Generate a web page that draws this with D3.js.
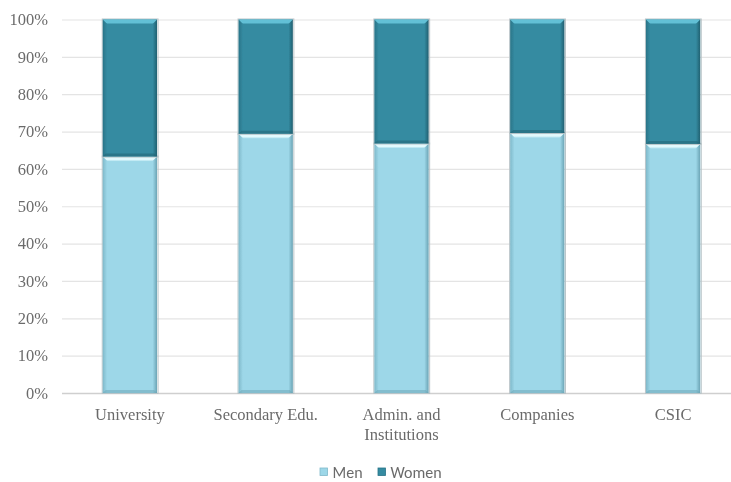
<!DOCTYPE html>
<html>
<head>
<meta charset="utf-8">
<script src="https://cdn.jsdelivr.net/npm/d3@7"></script>
<style>
  html, body { margin: 0; padding: 0; background: #fff; }
  svg { display: block; }
</style>
</head>
<body>
<svg id="chart" width="731" height="482"></svg>
<script>
// Share of men and women by employment sector (percent)
const categories = ["University", "Secondary Edu.", "Admin. and Institutions", "Companies", "CSIC"];
const categoryLines = [["University"], ["Secondary Edu."], ["Admin. and", "Institutions"], ["Companies"], ["CSIC"]];
const menShare = [63.3, 69.4, 66.8, 69.6, 66.7];
const womenShare = menShare.map(v => 100 - v);
const seriesNames = ["Men", "Women"];
const yTicks = [0, 10, 20, 30, 40, 50, 60, 70, 80, 90, 100];

const svg = d3.select("#chart");
const plot = { left: 62, right: 741, top: 19.5, bottom: 393 };

const x = d3.scaleBand().domain(categories).range([plot.left, plot.right]).paddingInner(0.6).paddingOuter(0.3);
const y = d3.scaleLinear().domain([0, 100]).range([plot.bottom, plot.top]);

const palette = {
  Men:   { fill: "#9dd7e8", top: "#e2f9fd", edge: "#7fb9ca", dark: "#6aa3b4" },
  Women: { fill: "#348ba1", top: "#62c0d6", edge: "#2a7488", dark: "#215f70" }
};

const defs = svg.append("defs");
defs.append("filter").attr("id", "soft").append("feGaussianBlur").attr("stdDeviation", 0.5);

Object.entries(palette).forEach(([k, c]) => {
  const g = defs.append("linearGradient").attr("id", "side-" + k).attr("x1", 0).attr("x2", 1).attr("y1", 0).attr("y2", 0);
  g.append("stop").attr("offset", 0).attr("stop-color", c.edge);
  g.append("stop").attr("offset", 0.08).attr("stop-color", c.fill);
  g.append("stop").attr("offset", 0.92).attr("stop-color", c.fill);
  g.append("stop").attr("offset", 1).attr("stop-color", c.dark);
  const t = defs.append("linearGradient").attr("id", "top-" + k).attr("x1", 0).attr("x2", 0).attr("y1", 0).attr("y2", 1);
  t.append("stop").attr("offset", 0).attr("stop-color", c.top);
  t.append("stop").attr("offset", 0.6).attr("stop-color", c.top);
  t.append("stop").attr("offset", 1).attr("stop-color", c.fill);
});

const root = svg.append("g").attr("filter", "url(#soft)");

// gridlines and percentage ticks
const yAxis = d3.axisLeft(y).tickValues(yTicks).tickFormat(d => d + "%").tickSize(-(plot.right - plot.left));
const ay = root.append("g").attr("transform", `translate(${plot.left},0)`).call(yAxis);
ay.select(".domain").remove();
ay.selectAll(".tick line").attr("stroke", d => d === 0 ? "#cfcfcf" : "#e4e4e4").attr("stroke-width", d => d === 0 ? 1.4 : 1.2);
ay.selectAll(".tick text")
  .attr("font-family", "Liberation Serif, Times New Roman, serif")
  .attr("font-size", 16.5).attr("fill", "#6b6b6b").attr("x", -14);

// stacked bars
const rows = categories.map((c, i) => ({ cat: c, Men: menShare[i], Women: womenShare[i] }));
const stack = d3.stack().keys(seriesNames)(rows);

stack.forEach(layer => {
  const key = layer.key, c = palette[key];
  const g = root.append("g");
  layer.forEach(d => {
    const x0 = x(d.data.cat), bw = x.bandwidth();
    const yTop = y(d[1]), yBot = y(d[0]), h = yBot - yTop;
    const bevel = 5;
    g.append("rect").attr("x", x0 - 0.5).attr("y", yTop - 0.5).attr("width", bw + 1.5).attr("height", h + 1)
      .attr("fill", "none").attr("stroke", "#b9c4c8").attr("stroke-width", 1);
    g.append("rect").attr("x", x0).attr("y", yTop).attr("width", bw).attr("height", h)
      .attr("fill", `url(#side-${key})`);
    // top bevel highlight
    g.append("path")
      .attr("d", `M${x0},${yTop} L${x0 + bw},${yTop} L${x0 + bw - bevel},${yTop + bevel} L${x0 + bevel},${yTop + bevel} Z`)
      .attr("fill", `url(#top-${key})`);
    // bottom bevel shade
    g.append("path")
      .attr("d", `M${x0},${yBot} L${x0 + bw},${yBot} L${x0 + bw - 3},${yBot - 3} L${x0 + 3},${yBot - 3} Z`)
      .attr("fill", c.dark).attr("opacity", 0.5);
  });
});

// category labels
const catG = root.append("g");
categories.forEach((c, i) => {
  const cx = x(c) + x.bandwidth() / 2;
  const t = catG.append("text")
    .attr("x", cx).attr("y", 420)
    .attr("text-anchor", "middle")
    .attr("font-family", "Liberation Serif, Times New Roman, serif")
    .attr("font-size", 16.5).attr("fill", "#6b6b6b");
  categoryLines[i].forEach((line, j) => {
    t.append("tspan").attr("x", cx).attr("dy", j === 0 ? 0 : 20).text(line);
  });
});

// legend
const legend = root.append("g").attr("transform", "translate(320,472)");
const legendX = [0, 58];
seriesNames.forEach((s, i) => {
  const lg = legend.append("g").attr("transform", `translate(${legendX[i]},0)`);
  lg.append("rect").attr("x", 0).attr("y", -4).attr("width", 7.5).attr("height", 7.5)
    .attr("fill", palette[s].fill).attr("stroke", palette[s].edge).attr("stroke-width", 0.8);
  lg.append("text").attr("x", 12.5).attr("y", 5.5)
    .attr("font-family", "Carlito, Liberation Sans, sans-serif")
    .attr("font-size", 16).attr("fill", "#6b6b6b").text(s);
});
</script>
</body>
</html>
